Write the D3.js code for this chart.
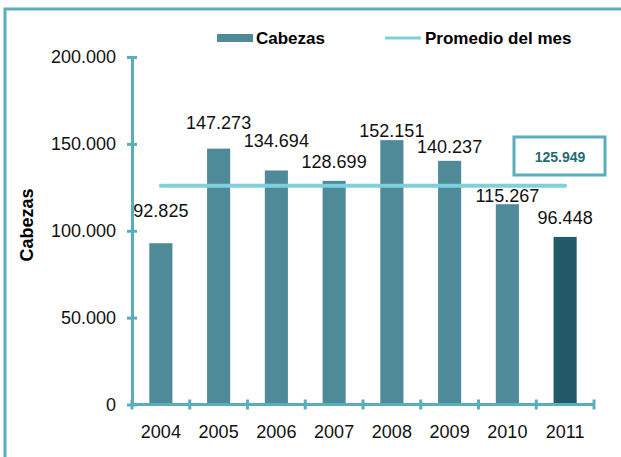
<!DOCTYPE html>
<html lang="es">
<head>
<meta charset="UTF-8">
<title>Cabezas</title>
<script src="https://d3js.org/d3.v7.min.js"></script>
<style>
  body { margin: 0; background: #fff; }
  text { font-family: "Liberation Sans", Arial, sans-serif; }
</style>
</head>
<body>
<script>
  // data
  var years = ["2004", "2005", "2006", "2007", "2008", "2009", "2010", "2011"];
  var cabezas = [92825, 147273, 134694, 128699, 152151, 140237, 115267, 96448];
  var promedio = 125949;
  var yTicks = [0, 50000, 100000, 150000, 200000];

  // layout tweaks for the value labels (gap above bar top, px)
  var labelLift = [26, 20, 23, 13, 3, 8, 2, 13];

  var width = 621, height = 457;
  var axisColor = "#5aaebb";
  var barColor = "#4e8a98";
  var lastColor = "#225a69";
  var lineColor = "#80cfdf";

  var es = d3.formatLocale({ decimal: ",", thousands: ".", grouping: [3], currency: ["", ""] });
  var fmt = es.format(",.0f");

  var svg = d3.select("body").append("svg")
      .attr("width", width)
      .attr("height", height);

  // outer frame
  svg.append("rect")
      .attr("x", 5).attr("y", 9)
      .attr("width", 640).attr("height", 500)
      .attr("fill", "none")
      .attr("stroke", axisColor)
      .attr("stroke-width", 3);

  var plotLeft = 132, plotRight = 594, plotTop = 57, plotBottom = 404.5;

  var x = d3.scaleBand()
      .domain(years)
      .range([plotLeft, plotRight])
      .paddingInner(0.6)
      .paddingOuter(0.3);

  var y = d3.scaleLinear()
      .domain([0, 200000])
      .range([plotBottom, plotTop]);

  // bars
  svg.selectAll("rect.bar")
      .data(cabezas)
      .enter().append("rect")
      .attr("class", "bar")
      .attr("x", (d, i) => x(years[i]))
      .attr("y", d => y(d))
      .attr("width", x.bandwidth())
      .attr("height", d => y(0) - y(d))
      .attr("fill", (d, i) => i == years.length - 1 ? lastColor : barColor);

  // value labels
  svg.selectAll("text.val")
      .data(cabezas)
      .enter().append("text")
      .attr("class", "val")
      .attr("x", (d, i) => x(years[i]) + x.bandwidth() / 2)
      .attr("y", (d, i) => y(d) - labelLift[i])
      .attr("text-anchor", "middle")
      .attr("font-size", "18px")
      .attr("fill", "#111")
      .text(d => fmt(d));

  // average line
  var line = d3.line()
      .x(d => x(d) + x.bandwidth() / 2)
      .y(() => y(promedio));
  svg.append("path")
      .datum(years)
      .attr("d", line)
      .attr("fill", "none")
      .attr("stroke", lineColor)
      .attr("stroke-width", 4)
      .attr("stroke-linecap", "round");

  // y axis
  var yAxis = svg.append("g")
      .attr("transform", "translate(" + plotLeft + ",0)")
      .call(d3.axisLeft(y).tickValues(yTicks).tickFormat(fmt).tickSize(0));
  yAxis.select(".domain").attr("stroke", axisColor).attr("stroke-width", 3);
  yAxis.selectAll(".tick line")
      .attr("x1", -5).attr("x2", 5)
      .attr("stroke", axisColor).attr("stroke-width", 3);
  yAxis.selectAll(".tick text")
      .attr("x", -16)
      .attr("font-size", "18px")
      .attr("fill", "#111");

  // x axis
  var xAxis = svg.append("g")
      .attr("transform", "translate(0," + plotBottom + ")");
  xAxis.append("line")
      .attr("x1", plotLeft).attr("x2", plotRight)
      .attr("stroke", axisColor).attr("stroke-width", 3);
  var bounds = d3.range(years.length + 1).map(i => plotLeft + i * x.step());
  xAxis.selectAll("line.tk")
      .data(bounds)
      .enter().append("line")
      .attr("class", "tk")
      .attr("x1", d => d).attr("x2", d => d)
      .attr("y1", -5).attr("y2", 5)
      .attr("stroke", axisColor).attr("stroke-width", 3);
  xAxis.selectAll("text")
      .data(years)
      .enter().append("text")
      .attr("x", d => x(d) + x.bandwidth() / 2)
      .attr("y", 33)
      .attr("text-anchor", "middle")
      .attr("font-size", "18px")
      .attr("fill", "#111")
      .text(d => d);

  // y title
  svg.append("text")
      .attr("transform", "translate(33,225) rotate(-90)")
      .attr("text-anchor", "middle")
      .attr("font-size", "18px")
      .attr("font-weight", "bold")
      .attr("fill", "#000")
      .text("Cabezas");

  // legend
  var lg = svg.append("g");
  lg.append("rect")
      .attr("x", 217).attr("y", 34)
      .attr("width", 36).attr("height", 8)
      .attr("fill", barColor);
  lg.append("text")
      .attr("x", 256).attr("y", 44)
      .attr("font-size", "17px")
      .attr("font-weight", "bold")
      .text("Cabezas");
  lg.append("line")
      .attr("x1", 385).attr("x2", 421)
      .attr("y1", 38).attr("y2", 38)
      .attr("stroke", lineColor)
      .attr("stroke-width", 3);
  lg.append("text")
      .attr("x", 425).attr("y", 44)
      .attr("font-size", "17px")
      .attr("font-weight", "bold")
      .text("Promedio del mes");

  // average value box
  svg.append("rect")
      .attr("x", 514).attr("y", 137)
      .attr("width", 91).attr("height", 38)
      .attr("fill", "#fff")
      .attr("stroke", axisColor)
      .attr("stroke-width", 3);
  svg.append("text")
      .attr("x", 560).attr("y", 162)
      .attr("text-anchor", "middle")
      .attr("font-size", "14px")
      .attr("font-weight", "bold")
      .attr("fill", "#1f6b75")
      .text(fmt(promedio));
</script>
</body>
</html>
